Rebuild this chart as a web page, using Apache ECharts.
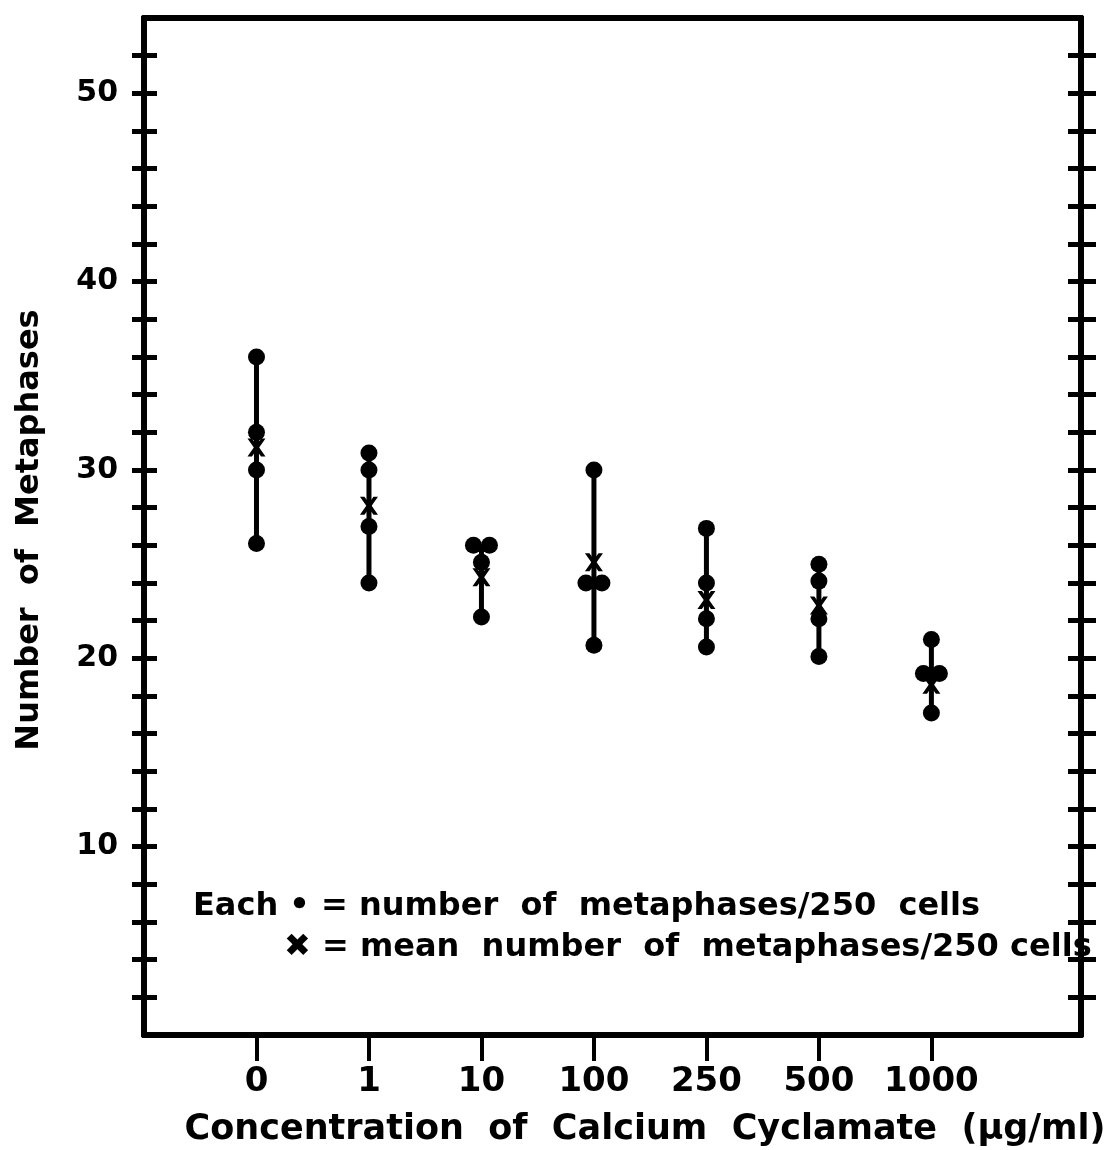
<!DOCTYPE html>
<html>
<head>
<meta charset="utf-8">
<script src="https://cdn.jsdelivr.net/npm/echarts@6/dist/echarts.min.js"></script>
<style>
html,body{margin:0;padding:0;background:#fff;}
#chart{width:1110px;height:1150px;}
</style>
</head>
<body>
<div id="chart"></div>
<script>
// ---- data ----
var categories = ['0', '1', '10', '100', '250', '500', '1000'];
var dots0 = [36, 32, 30, 26.1];
var dots1 = [30.9, 30, 27, 24];
var dots10 = [26, 26, 25.1, 22.2];
var dots100 = [30, 24, 24, 20.7];
var dots250 = [26.9, 24, 22.1, 20.6];
var dots500 = [25, 24.1, 22.1, 20.1];
var dots1000 = [21, 19.2, 19.2, 17.1];
var means = [31.2, 28.1, 24.3, 25.1, 23.1, 22.8, 18.6];
var yTickValues = [2,4,6,8,10,12,14,16,18,20,22,24,26,28,30,32,34,36,38,40,42,44,46,48,50,52];
var yLabelValues = [10, 20, 30, 40, 50];
var yTitle = 'Number  of  Metaphases';
var xTitle = 'Concentration  of  Calcium  Cyclamate  (\u03bcg/ml)';
var note1 = 'Each \u2022 = number  of  metaphases/250  cells';
var note2 = '\u2716 = mean  number  of  metaphases/250 cells';

var groups = [dots0, dots1, dots10, dots100, dots250, dots500, dots1000];

// build scatter points; duplicate values in a group are drawn side by side
var dotData = [];
var rangeData = [];
groups.forEach(function (g, i) {
  var seen = {};
  g.forEach(function (v) {
    var count = g.filter(function (w) { return w === v; }).length;
    var item = { value: [i, v] };
    if (count > 1) {
      seen[v] = (seen[v] || 0) + 1;
      item.symbolOffset = [seen[v] === 1 ? -8 : 8, 0];
    }
    dotData.push(item);
  });
  rangeData.push([i, Math.min.apply(null, g), Math.max.apply(null, g)]);
});
var meanData = means.map(function (m, i) { return [i, m]; });

var FONT = 'DejaVu Sans';
var BLACK = '#000';
var xCustom = categories.map(function (c, i) { return i; });

var chart = echarts.init(document.getElementById('chart'), null, { renderer: 'canvas' });
var yBase = { type: 'value', min: 0, max: 54, splitLine: { show: false },
  axisLine: { show: true, onZero: false, lineStyle: { color: BLACK, width: 6 } } };

chart.setOption({
  backgroundColor: '#fff',
  animation: false,
  grid: { left: 144, right: 29, top: 18, bottom: 115, containLabel: false },
  xAxis: [
    { type: 'value', position: 'bottom', min: -1, max: 7.33,
      axisLine: { show: true, onZero: false, lineStyle: { color: BLACK, width: 6 } },
      splitLine: { show: false },
      axisTick: { show: true, customValues: xCustom, length: 26, inside: false, lineStyle: { color: BLACK, width: 4 } },
      axisLabel: { show: true, customValues: xCustom, margin: 30,
        formatter: function (v) { return categories[Math.round(v)] || ''; },
        color: BLACK, fontFamily: FONT, fontWeight: 'bold', fontSize: 34 } },
    { type: 'value', position: 'top', min: -1, max: 7.33,
      axisLine: { show: true, onZero: false, lineStyle: { color: BLACK, width: 6 } },
      splitLine: { show: false }, axisTick: { show: false }, axisLabel: { show: false } }
  ],
  yAxis: [
    Object.assign({}, yBase, { position: 'left',
      axisTick: { show: true, customValues: yTickValues, length: 12, inside: false, lineStyle: { color: BLACK, width: 5 } },
      axisLabel: { show: true, customValues: yLabelValues, margin: 26, color: BLACK, fontFamily: FONT, fontWeight: 'bold', fontSize: 30 } }),
    Object.assign({}, yBase, { position: 'left', offset: 0,
      axisTick: { show: true, customValues: yTickValues, length: 13, inside: true, lineStyle: { color: BLACK, width: 5 } },
      axisLabel: { show: false } }),
    Object.assign({}, yBase, { position: 'right', offset: 0,
      axisTick: { show: true, customValues: yTickValues, length: 13, inside: true, lineStyle: { color: BLACK, width: 5 } },
      axisLabel: { show: false } }),
    Object.assign({}, yBase, { position: 'right', offset: 0,
      axisTick: { show: true, customValues: yTickValues, length: 15, inside: false, lineStyle: { color: BLACK, width: 5 } },
      axisLabel: { show: false } })
  ],
  series: [
    { type: 'custom', xAxisIndex: 0, yAxisIndex: 0, data: rangeData,
      renderItem: function (params, api) {
        var p1 = api.coord([api.value(0), api.value(1)]);
        var p2 = api.coord([api.value(0), api.value(2)]);
        return { type: 'line', shape: { x1: p1[0], y1: p1[1], x2: p2[0], y2: p2[1] },
          style: { stroke: BLACK, lineWidth: 5 } };
      }, z: 2 },
    { type: 'scatter', xAxisIndex: 0, yAxisIndex: 0, data: dotData, symbol: 'circle', symbolSize: 17,
      itemStyle: { color: BLACK, opacity: 1 }, z: 3 },
    { type: 'scatter', xAxisIndex: 0, yAxisIndex: 0, data: meanData,
      symbol: 'path://M0,0 L5,0 L10,7 L15,0 L20,0 L13,10 L20,20 L15,20 L10,13 L5,20 L0,20 L7,10 Z',
      symbolSize: [18, 18], itemStyle: { color: BLACK, opacity: 1 }, z: 4 }
  ],
  graphic: [
    { type: 'text', x: 30, y: 530, rotation: Math.PI / 2,
      style: { text: yTitle, fill: BLACK, font: 'bold 32px "DejaVu Sans"', textAlign: 'center', textVerticalAlign: 'middle' } },
    { type: 'text', x: 645, y: 1130,
      style: { text: xTitle, fill: BLACK, font: 'bold 35px "DejaVu Sans"', textAlign: 'center', textVerticalAlign: 'middle' } },
    { type: 'text', x: 193, y: 907,
      style: { text: note1, fill: BLACK, font: 'bold 32px "DejaVu Sans"', textAlign: 'left', textVerticalAlign: 'middle' } },
    { type: 'text', x: 284, y: 948,
      style: { text: note2, fill: BLACK, font: 'bold 32px "DejaVu Sans"', textAlign: 'left', textVerticalAlign: 'middle' } }
  ]
});
</script>
</body>
</html>
